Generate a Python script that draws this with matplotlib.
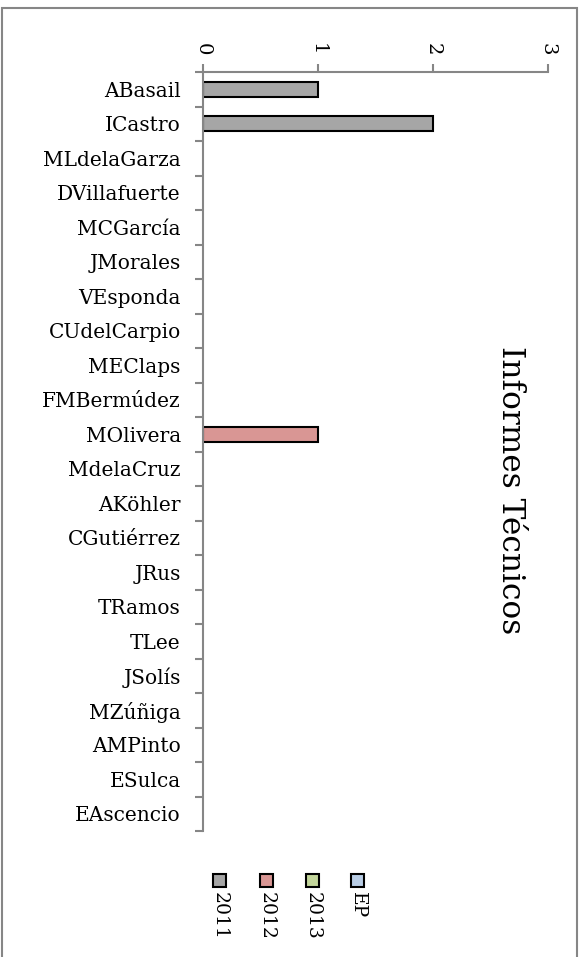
import numpy as np
import matplotlib.pyplot as plt
from matplotlib.patches import Rectangle

# Data
names = ["ABasail", "ICastro", "MLdelaGarza", "DVillafuerte", "MCGarcía", "JMorales",
         "VEsponda", "CUdelCarpio", "MEClaps", "FMBermúdez", "MOlivera", "MdelaCruz",
         "AKöhler", "CGutiérrez", "JRus", "TRamos", "TLee", "JSolís", "MZúñiga",
         "AMPinto", "ESulca", "EAscencio"]
v2011 = [1, 2, 0, 0, 0, 0, 0, 0, 0, 0, 0, 0, 0, 0, 0, 0, 0, 0, 0, 0, 0, 0]
v2012 = [0, 0, 0, 0, 0, 0, 0, 0, 0, 0, 1, 0, 0, 0, 0, 0, 0, 0, 0, 0, 0, 0]
v2013 = [0] * 22
vEP = [0] * 22
series = ["2011", "2012", "2013", "EP"]
colors = ["#A6A6A6", "#D99694", "#C3D69B", "#B9CDE5"]
xticks = [0, 1, 2, 3]
title = "Informes Técnicos"

plt.rcParams['font.family'] = ['DejaVu Serif']
gray = "#868686"

fig = plt.figure(figsize=(5.83, 9.57), dpi=100)
ax = fig.add_axes([203/583, 1 - 831/957, 345/583, 759/957])

y = np.arange(len(names))
left = np.zeros(len(names))
for vals, c in zip([v2011, v2012, v2013, vEP], colors):
    vals = np.array(vals, dtype=float)
    lw = [1.5 if v else 0 for v in vals]
    ax.barh(y, vals, left=left, height=0.43, color=c, edgecolor="black", linewidth=lw)
    left += vals

ax.set_ylim(len(names) - 0.5, -0.5)
ax.set_xlim(0, 3)
ax.set_yticks(y)
ax.set_yticklabels(names, fontsize=14.5)
ax.set_yticks(np.arange(len(names) + 1) - 0.5, minor=True)
ax.tick_params(axis="y", which="major", length=0, pad=16)
ax.tick_params(axis="y", which="minor", length=6, color=gray, width=1.5, direction="out")

ax.xaxis.tick_top()
ax.set_xticks(xticks)
ax.set_xticklabels([str(t) for t in xticks], rotation=-90, fontsize=14)
ax.tick_params(axis="x", length=6, color=gray, width=1.5, pad=6)

for s in ["right", "bottom"]:
    ax.spines[s].set_visible(False)
for s in ["left", "top"]:
    ax.spines[s].set_color(gray)
    ax.spines[s].set_linewidth(1.5)

fig.text(510/583, 1 - 490/957, title, rotation=-90, fontsize=22.5, ha="center", va="center")

# legend drawn by hand (rotated layout)
lx = [220, 267, 313, 358]
for x0, lab, c in zip(lx, series, colors):
    fig.patches.append(Rectangle(((x0 - 7)/583, 1 - 887/957), 13/583, 13/957,
                                 transform=fig.transFigure, facecolor=c,
                                 edgecolor="black", linewidth=1.5))
    fig.text(x0/583, 1 - 892/957, lab, rotation=-90, fontsize=13.5,
             ha="center", va="top")

# outer border
fig.patches.append(Rectangle((1.5/583, -0.05), 575.5/583, 1.05 - 8/957,
                             transform=fig.transFigure, fill=False,
                             edgecolor=gray, linewidth=1.5))

fig.savefig("out.png", dpi=100)
